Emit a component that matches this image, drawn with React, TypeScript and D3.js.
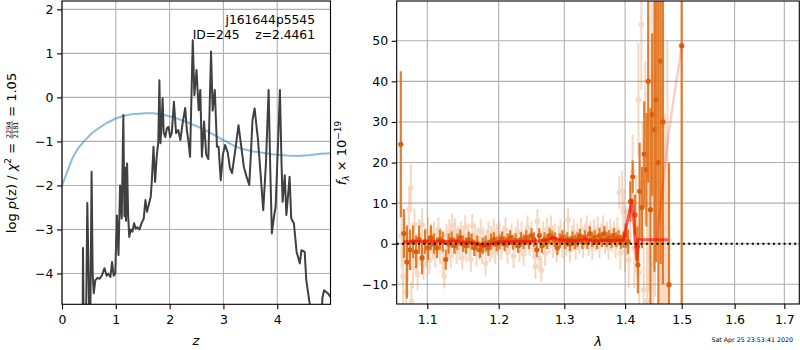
import { useEffect, useRef } from 'react';
import * as d3 from 'd3';

const FONT = 'DejaVu Sans';

// p(z) curve (z, log p)
const pzCurve: [number, number][] = [
  [0.38, -6], [0.39, -3.42], [0.41, -6], [0.44, -6], [0.47, -2.4], [0.49, -3.7], [0.52, -6],
  [0.55, -1.69], [0.57, -4.0], [0.59, -4.45], [0.62, -4.15], [0.66, -4.1], [0.7, -4.12],
  [0.74, -4.05], [0.79, -3.88], [0.83, -4.05], [0.86, -4.0], [0.9, -4.08], [0.93, -3.74],
  [0.96, -4.05], [0.99, -4.0], [1.02, -2.68], [1.05, -3.58], [1.08, -2.0], [1.11, -2.75],
  [1.14, -0.4], [1.16, -2.7], [1.18, -1.6], [1.19, -2.8], [1.21, -1.5], [1.23, -2.7],
  [1.25, -3.17], [1.28, -3.0], [1.31, -3.05], [1.34, -2.86], [1.37, -2.98], [1.4, -2.95],
  [1.44, -3.0], [1.48, -2.85], [1.52, -2.75], [1.55, -2.33], [1.58, -2.6], [1.62, -2.4],
  [1.65, -2.25], [1.67, -1.88], [1.7, -1.12], [1.73, -1.92], [1.76, -1.35], [1.79, -1.0],
  [1.81, 0.39], [1.83, -1.04], [1.85, -0.6], [1.87, -0.02], [1.89, -0.8], [1.92, -0.9],
  [1.95, -0.7], [1.98, -0.67], [2.01, -0.9], [2.04, -0.81], [2.08, -0.1], [2.12, -0.81],
  [2.16, -0.74], [2.2, -0.97], [2.24, -0.6], [2.29, -0.24], [2.32, -0.74], [2.35, -1.0],
  [2.38, -1.35], [2.43, 1.3], [2.46, 0.05], [2.5, 0.62], [2.54, -0.29], [2.57, 0.17],
  [2.6, -1.35], [2.64, -0.55], [2.68, -1.3], [2.72, -1.4], [2.77, 1.04], [2.8, -0.3],
  [2.84, 0.17], [2.88, -1.12], [2.91, -1.12], [2.95, -1.88], [2.99, -1.3], [3.03, -1.08],
  [3.08, -1.25], [3.12, -1.6], [3.16, -1.72], [3.22, -1.2], [3.28, -0.63], [3.33, -1.1],
  [3.38, -1.58], [3.43, -1.8], [3.48, -1.99], [3.51, -1.3], [3.54, -0.52], [3.58, -0.25],
  [3.61, -0.6], [3.64, -0.93], [3.69, -1.73], [3.74, -2.56], [3.79, -1.5], [3.84, 0.17],
  [3.87, -1.6], [3.9, -3.09], [3.94, -2.7], [3.97, -2.49], [4.01, -1.2], [4.05, 0.17],
  [4.08, -1.5], [4.1, -2.37], [4.14, -1.77], [4.17, -2.67], [4.21, -2.1], [4.23, -1.8],
  [4.26, -2.75], [4.31, -2.86], [4.36, -3.51], [4.42, -3.77], [4.45, -3.47], [4.51, -3.51],
  [4.54, -4.15], [4.61, -4.75], [4.7, -5.5], [4.8, -5.5], [4.84, -4.55], [4.87, -4.38],
  [4.94, -4.45], [4.99, -4.53],
];

// smooth prior curve
const priorCurve: [number, number][] = [
  [0, -2.0], [0.1, -1.68], [0.19, -1.39], [0.3, -1.15], [0.43, -0.97], [0.55, -0.82],
  [0.68, -0.7], [0.85, -0.57], [1.0, -0.48], [1.12, -0.43], [1.3, -0.38], [1.55, -0.36],
  [1.7, -0.36], [1.9, -0.4], [2.07, -0.45], [2.3, -0.55], [2.57, -0.69], [2.75, -0.8],
  [2.94, -0.93], [3.2, -1.1], [3.32, -1.16], [3.56, -1.23], [3.9, -1.29], [4.18, -1.32],
  [4.4, -1.33], [4.62, -1.31], [4.8, -1.28], [4.99, -1.27],
];

// unbinned spectrum (lambda, flux, err)
const rawSpec: [number, number, number][] = [
  [1.066, 2.0, 8], [1.068, -8.0, 7], [1.07, 1.0, 6], [1.072, -12.0, 6], [1.074, -3.0, 6],
  [1.076, 8.5, 5], [1.078, 13.7, 6], [1.079, -14.2, 5], [1.081, -6.0, 5], [1.083, 4.7, 4],
  [1.085, -3.5, 4], [1.087, -7.5, 4], [1.089, 2.0, 4], [1.091, -1.5, 4], [1.093, 4.7, 4],
  [1.095, -5.0, 4], [1.097, 0.5, 3.5], [1.099, -2.5, 3.5], [1.101, 3.0, 3.5], [1.103, -4.0, 3.5],
  [1.105, 1.5, 3.5], [1.107, -1.0, 3], [1.109, 2.5, 3], [1.111, -3.0, 3], [1.113, 0.0, 3],
  [1.115, 3.5, 3], [1.117, -2.0, 3], [1.119, 1.0, 3], [1.121, -4.5, 3], [1.123, -8.0, 3],
  [1.126, 2.0, 3], [1.128, -1.0, 3], [1.13, 3.0, 3], [1.132, -3.0, 3], [1.134, 4.5, 3],
  [1.136, 0.5, 3], [1.138, 3.2, 3], [1.14, -2.0, 3], [1.142, 1.5, 3], [1.144, -1.0, 3],
  [1.146, 2.5, 3], [1.148, -3.5, 3], [1.15, 1.0, 3], [1.152, 4.0, 3], [1.154, -1.5, 3],
  [1.156, 2.0, 3], [1.158, -0.5, 3], [1.16, -3.9, 3], [1.162, 4.4, 3], [1.164, 0.0, 3],
  [1.166, 2.0, 3], [1.168, -2.5, 3], [1.17, 1.0, 3], [1.172, -1.0, 3], [1.174, 3.0, 3],
  [1.176, -2.0, 3], [1.178, 1.0, 3], [1.181, -4.8, 3], [1.183, 0.5, 3], [1.185, 2.5, 3],
  [1.187, -1.5, 3], [1.189, 1.5, 3], [1.191, -0.5, 3], [1.193, 3.0, 3], [1.195, -2.0, 3],
  [1.197, 2.0, 3], [1.199, 0.0, 3], [1.201, 2.5, 3], [1.204, -1.0, 3], [1.207, 1.5, 3],
  [1.21, 3.5, 3], [1.213, -2.0, 3], [1.216, 0.5, 3], [1.219, 2.0, 3], [1.222, -3.0, 3],
  [1.225, 1.0, 3], [1.228, 3.0, 3], [1.231, -1.5, 3], [1.234, 2.5, 3], [1.237, -2.5, 3],
  [1.24, 1.0, 3], [1.243, 4.0, 3], [1.246, 0.0, 3], [1.249, 2.5, 3], [1.252, -1.0, 3],
  [1.255, -5.6, 3], [1.258, 5.5, 3], [1.261, -3.5, 3], [1.264, -6.5, 3], [1.267, 2.5, 3],
  [1.27, -2.5, 3], [1.273, 3.5, 3], [1.276, 0.5, 3], [1.279, 4.0, 3], [1.282, -0.5, 3],
  [1.285, 2.0, 3], [1.288, -1.5, 3], [1.291, 1.5, 3], [1.294, 3.0, 3], [1.297, -0.5, 3],
  [1.3, 2.5, 3], [1.303, 0.0, 3], [1.306, 5.9, 3], [1.309, -1.5, 3], [1.312, 1.5, 3],
  [1.315, 3.0, 3], [1.318, -1.0, 3], [1.321, 2.0, 3], [1.324, 0.5, 3], [1.327, 3.5, 3],
  [1.33, -0.5, 3], [1.333, 2.0, 3], [1.336, 4.0, 3], [1.339, 0.0, 3], [1.342, 2.5, 3],
  [1.345, -1.0, 3], [1.348, 3.0, 3], [1.351, 1.0, 3], [1.354, 3.7, 3], [1.357, -0.5, 3],
  [1.36, 2.0, 3], [1.363, 4.0, 3], [1.366, 0.5, 3], [1.369, 2.5, 3], [1.372, -1.0, 3],
  [1.375, 3.0, 3], [1.378, 1.0, 3], [1.381, 2.5, 3], [1.384, -0.5, 3], [1.387, 3.5, 3],
  [1.39, 12.6, 4], [1.392, -2.3, 4], [1.395, 12.9, 5], [1.397, 7.9, 5], [1.4, -2.0, 5],
  [1.403, 3.0, 6], [1.406, -4.0, 7], [1.409, 8.0, 8], [1.413, 17.8, 9], [1.416, -1.0, 10],
  [1.419, 5.0, 12], [1.423, 35.5, 14], [1.424, -7.1, 12], [1.428, 54.0, 16], [1.43, 15.0, 15],
  [1.432, -11.3, 15], [1.435, 25.0, 20], [1.438, -14.0, 18], [1.441, 10.0, 22], [1.446, 40.9, 25],
  [1.449, -5.0, 25], [1.452, 15.0, 28], [1.457, 56.0, 30], [1.46, 35.5, 30], [1.462, 8.0, 30],
  [1.466, 20.0, 35], [1.47, -3.0, 35], [1.474, 10.0, 40],
];

// binned spectrum (lambda, flux, err)
const binSpec: [number, number, number][] = [
  [1.065, 24.5, 18], [1.069, 2.5, 6], [1.073, -4.5, 9], [1.077, -1.5, 5], [1.081, 0.5, 4],
  [1.085, -2.0, 4], [1.089, 1.0, 3.5], [1.093, -3.5, 4], [1.097, 0.5, 3], [1.101, -1.0, 3],
  [1.105, 1.5, 3], [1.109, 0.0, 2.5], [1.113, -1.0, 2.5], [1.117, 1.0, 2.5], [1.121, 0.5, 2.5],
  [1.125, -3.9, 2.5], [1.129, 0.0, 2.5], [1.133, 1.0, 2], [1.137, -0.5, 2], [1.141, 0.5, 2],
  [1.145, 1.5, 2], [1.149, 0.0, 2], [1.153, -0.5, 2], [1.157, 1.0, 2], [1.161, 0.5, 2],
  [1.165, -1.0, 2], [1.169, 0.0, 2], [1.173, -1.5, 2], [1.177, -0.5, 2], [1.181, 0.0, 2],
  [1.185, -1.0, 2], [1.189, 0.5, 2], [1.193, 1.0, 1.8], [1.197, 0.0, 1.8], [1.201, 0.5, 1.8],
  [1.205, 1.2, 1.8], [1.209, 0.0, 1.8], [1.213, 0.8, 1.8], [1.217, 1.5, 1.8], [1.221, 0.3, 1.8],
  [1.225, 0.8, 1.8], [1.229, -0.5, 1.8], [1.233, 1.0, 1.8], [1.237, 0.5, 1.8], [1.241, 1.5, 1.8],
  [1.245, 0.5, 1.8], [1.249, 2.0, 1.8], [1.253, 1.0, 1.8], [1.257, -1.5, 1.8], [1.261, 2.0, 1.8],
  [1.265, -0.5, 1.8], [1.269, 1.0, 1.8], [1.273, 0.5, 1.8], [1.277, 2.0, 1.8], [1.281, 1.5, 1.8],
  [1.285, 1.0, 1.8], [1.289, -1.0, 1.8], [1.293, 0.8, 1.8], [1.297, 1.5, 1.8], [1.301, 0.5, 1.8],
  [1.305, 1.0, 1.8], [1.309, 0.0, 1.8], [1.313, 1.2, 1.8], [1.317, 0.5, 1.8], [1.321, 1.0, 1.8],
  [1.325, 1.8, 1.8], [1.329, 0.5, 1.8], [1.333, 1.5, 1.8], [1.337, 0.5, 1.8], [1.341, 2.5, 1.8],
  [1.345, 1.0, 1.8], [1.349, 1.5, 1.8], [1.353, 0.5, 1.8], [1.357, 2.0, 1.8], [1.361, 1.0, 1.8],
  [1.365, 2.5, 1.8], [1.369, 1.0, 1.8], [1.373, 1.5, 1.8], [1.377, 0.8, 1.8], [1.381, 2.0, 1.8],
  [1.385, 1.0, 1.8], [1.389, 1.5, 1.8], [1.393, 0.5, 1.8], [1.397, 1.0, 2], [1.401, 2.0, 3],
  [1.405, 0.5, 3], [1.409, 10.4, 5], [1.413, 16.5, 4], [1.417, 7.1, 5], [1.421, -0.7, 5],
  [1.422, -5.2, 7], [1.425, 12.9, 12], [1.429, 8.9, 10], [1.433, 22.1, 13], [1.437, 18.2, 14],
  [1.44, 40.0, 25], [1.444, 8.4, 25], [1.447, 31.8, 20], [1.451, 28.1, 35], [1.454, 35.5, 40],
  [1.458, 20.0, 45], [1.462, 45.0, 50], [1.466, 30.0, 40], [1.477, -10.1, 30], [1.5, 48.8, 80],
];

// best-fit model
const modelCurve: [number, number][] = [
  [1.068, 0.5], [1.1, 0.6], [1.14, 0.6], [1.16, 0.3], [1.175, -0.3], [1.185, -0.3], [1.2, 0.5],
  [1.25, 0.6], [1.27, 0.8], [1.283, 1.5], [1.295, 0.9], [1.32, 0.7], [1.333, 1.2], [1.345, 0.7],
  [1.37, 0.8], [1.397, 0.9], [1.412, 10.8], [1.42, -3.9], [1.423, 1.0], [1.475, 1.0],
];
const contCurve: [number, number][] = [[1.455, 1.0], [1.477, 28], [1.5, 48.8]];

const zTicks = [0, 1, 2, 3, 4];
const pzTicks = [-4, -3, -2, -1, 0, 1, 2];
const waveTicks = [1.1, 1.2, 1.3, 1.4, 1.5, 1.6, 1.7];
const fluxTicks = [-10, 0, 10, 20, 30, 40, 50];

const L = { x0: 62, x1: 330.5, y0: 1, y1: 304.3 };
const R = { x0: 396.7, x1: 799.3, y0: 1, y1: 304 };

const xL = d3.scaleLinear().domain([0, 4.99]).range([L.x0, L.x1]);
const yL = d3.scaleLinear().domain([-4.7, 2.19]).range([L.y1, L.y0]);
const xR = d3.scaleLog().domain([1.0597, 1.7313]).range([R.x0, R.x1]);
const yR = d3.scaleLinear().domain([-14.85, 59.8]).range([R.y1, R.y0]);

const ORANGE = '#d95f0e';

export default function App() {
  const axLx = useRef<SVGGElement>(null);
  const axLy = useRef<SVGGElement>(null);
  const axRx = useRef<SVGGElement>(null);
  const axRy = useRef<SVGGElement>(null);
  const ylab = useRef<SVGGElement>(null);

  useEffect(() => {
    const style = (g: any) => {
      g.attr('font-family', FONT).attr('font-size', 12.5);
      g.select('.domain').remove();
      g.selectAll('.tick line').attr('stroke', '#000').attr('stroke-width', 1.1);
      g.selectAll('.tick text').attr('fill', '#000');
    };
    d3.select(axLx.current!).call(d3.axisBottom(xL).tickValues(zTicks).tickFormat(d3.format('d')).tickSize(5).tickPadding(6)).call(style);
    d3.select(axLy.current!).call(d3.axisLeft(yL).tickValues(pzTicks).tickFormat(d3.format('d')).tickSize(5).tickPadding(3.5)).call(style);
    d3.select(axRx.current!).call(d3.axisBottom(xR).tickValues(waveTicks).tickFormat(d3.format('.1f')).tickSize(5).tickPadding(6)).call(style);
    d3.select(axRy.current!).call(d3.axisLeft(yR).tickValues(fluxTicks).tickFormat(d3.format('d')).tickSize(5).tickPadding(3.5)).call(style);

    // lay out the y label with its stacked fraction
    const g = ylab.current!;
    const p1 = g.querySelector('.p1') as SVGTextElement;
    const num = g.querySelector('.num') as SVGTextElement;
    const den = g.querySelector('.den') as SVGTextElement;
    const bar = g.querySelector('.bar') as SVGLineElement;
    const p3 = g.querySelector('.p3') as SVGTextElement;
    const w1 = p1.getComputedTextLength();
    const wf = Math.max(num.getComputedTextLength(), den.getComputedTextLength()) + 1;
    const w3 = p3.getComputedTextLength();
    let x = -(w1 + wf + w3) / 2;
    p1.setAttribute('x', String(x));
    x += w1;
    num.setAttribute('x', String(x + wf / 2));
    den.setAttribute('x', String(x + wf / 2));
    bar.setAttribute('x1', String(x));
    bar.setAttribute('x2', String(x + wf));
    x += wf;
    p3.setAttribute('x', String(x));
  }, []);

  const pzLine = d3.line<[number, number]>().x(d => xL(d[0])).y(d => yL(d[1]));
  const specLine = d3.line<[number, number]>().x(d => xR(d[0])).y(d => yR(d[1]));

  return (
    <svg width={800} height={350} style={{ position: 'absolute', left: 0, top: 0 }} fontFamily={FONT}>
      <defs>
        <clipPath id="clipL"><rect x={L.x0} y={L.y0} width={L.x1 - L.x0} height={L.y1 - L.y0} /></clipPath>
        <clipPath id="clipR"><rect x={R.x0} y={R.y0} width={R.x1 - R.x0} height={R.y1 - R.y0} /></clipPath>
      </defs>
      <rect width={800} height={350} fill="#fff" />

      {/* left panel */}
      <g>
        {zTicks.map(t => <line key={'zg' + t} x1={xL(t)} x2={xL(t)} y1={L.y0} y2={L.y1} stroke="#b0b0b0" strokeWidth={1.1} />)}
        {pzTicks.map(t => <line key={'pg' + t} x1={L.x0} x2={L.x1} y1={yL(t)} y2={yL(t)} stroke="#b0b0b0" strokeWidth={1.1} />)}
        <g clipPath="url(#clipL)">
          <path d={pzLine(priorCurve)!} fill="none" stroke="#1f77b4" strokeOpacity={0.5} strokeWidth={2} />
          <path d={pzLine(pzCurve)!} fill="none" stroke="#404040" strokeWidth={2} strokeLinejoin="round" />
        </g>
        <rect x={L.x0} y={L.y0} width={L.x1 - L.x0} height={L.y1 - L.y0} fill="none" stroke="#000" strokeWidth={1.1} />
        <g ref={axLx} transform={`translate(0,${L.y1})`} />
        <g ref={axLy} transform={`translate(${L.x0},0)`} />
        <text x={315} y={24} fontSize={12.3} textAnchor="end">j161644p5545</text>
        <text x={315} y={38.5} fontSize={12.3} textAnchor="end" style={{ whiteSpace: 'pre' }}>{'ID=245    z=2.4461'}</text>
        <text x={196} y={345} fontSize={13} textAnchor="middle" fontStyle="italic">z</text>
        <g ref={ylab} transform="translate(15.5,153) rotate(-90)" fontSize={13}>
          <text className="p1" y={0} style={{ whiteSpace: 'pre' }}>
            {'log '}<tspan fontStyle="italic">p</tspan>{'(z) / '}<tspan fontStyle="italic">χ</tspan>
            <tspan dy={-5} fontSize={9}>2</tspan><tspan dy={5}>{' = '}</tspan>
          </text>
          <text className="num" y={-4.3} fontSize={6.6} textAnchor="middle">2294</text>
          <line className="bar" y1={-3.4} y2={-3.4} stroke="#000" strokeWidth={0.6} />
          <text className="den" y={2.3} fontSize={6.6} textAnchor="middle">2181</text>
          <text className="p3" y={0} style={{ whiteSpace: 'pre' }}>{' = 1.05'}</text>
        </g>
      </g>

      {/* right panel */}
      <g>
        {waveTicks.map(t => <line key={'wg' + t} x1={xR(t)} x2={xR(t)} y1={R.y0} y2={R.y1} stroke="#b0b0b0" strokeWidth={1.1} />)}
        {fluxTicks.map(t => <line key={'fg' + t} x1={R.x0} x2={R.x1} y1={yR(t)} y2={yR(t)} stroke="#b0b0b0" strokeWidth={1.1} />)}
        <g clipPath="url(#clipR)">
          <g opacity={0.28}>
            {rawSpec.map((d, i) => (
              <g key={'r' + i}>
                <line x1={xR(d[0])} x2={xR(d[0])} y1={yR(d[1] - d[2])} y2={yR(d[1] + d[2])} stroke="#e0701a" strokeWidth={2} />
                <circle cx={xR(d[0])} cy={yR(d[1])} r={2.8} fill="#e0701a" />
              </g>
            ))}
          </g>
          {binSpec.map((d, i) => (
            <g key={'b' + i}>
              <line x1={xR(d[0])} x2={xR(d[0])} y1={yR(d[1] - d[2])} y2={yR(d[1] + d[2])} stroke="#e0701a" strokeOpacity={0.9} strokeWidth={2.2} />
              <circle cx={xR(d[0])} cy={yR(d[1])} r={2.6} fill={ORANGE} />
            </g>
          ))}
          <path d={specLine(contCurve)!} fill="none" stroke="red" strokeOpacity={0.2} strokeWidth={2.5} />
          <path d={specLine(modelCurve)!} fill="none" stroke="red" strokeOpacity={0.6} strokeWidth={3} strokeLinejoin="round" />
          <line x1={R.x0} x2={R.x1} y1={yR(0)} y2={yR(0)} stroke="#000" strokeWidth={2} strokeDasharray="2,3.3" />
        </g>
        <rect x={R.x0} y={R.y0} width={R.x1 - R.x0} height={R.y1 - R.y0} fill="none" stroke="#000" strokeWidth={1.1} />
        <g ref={axRx} transform={`translate(0,${R.y1})`} />
        <g ref={axRy} transform={`translate(${R.x0},0)`} />
        <text x={598} y={346} fontSize={13} textAnchor="middle" fontStyle="italic">λ</text>
        <text transform="translate(345.5,153) rotate(-90)" fontSize={13} textAnchor="middle">
          <tspan fontStyle="italic">f</tspan>
          <tspan dy={3} fontSize={9} fontStyle="italic">λ</tspan>
          <tspan dy={-3}>{' × 10'}</tspan>
          <tspan dy={-5} fontSize={9}>−19</tspan>
        </text>
        <text x={793} y={342} fontSize={6.3} textAnchor="end">Sat Apr 25 23:53:41 2020</text>
      </g>
    </svg>
  );
}
